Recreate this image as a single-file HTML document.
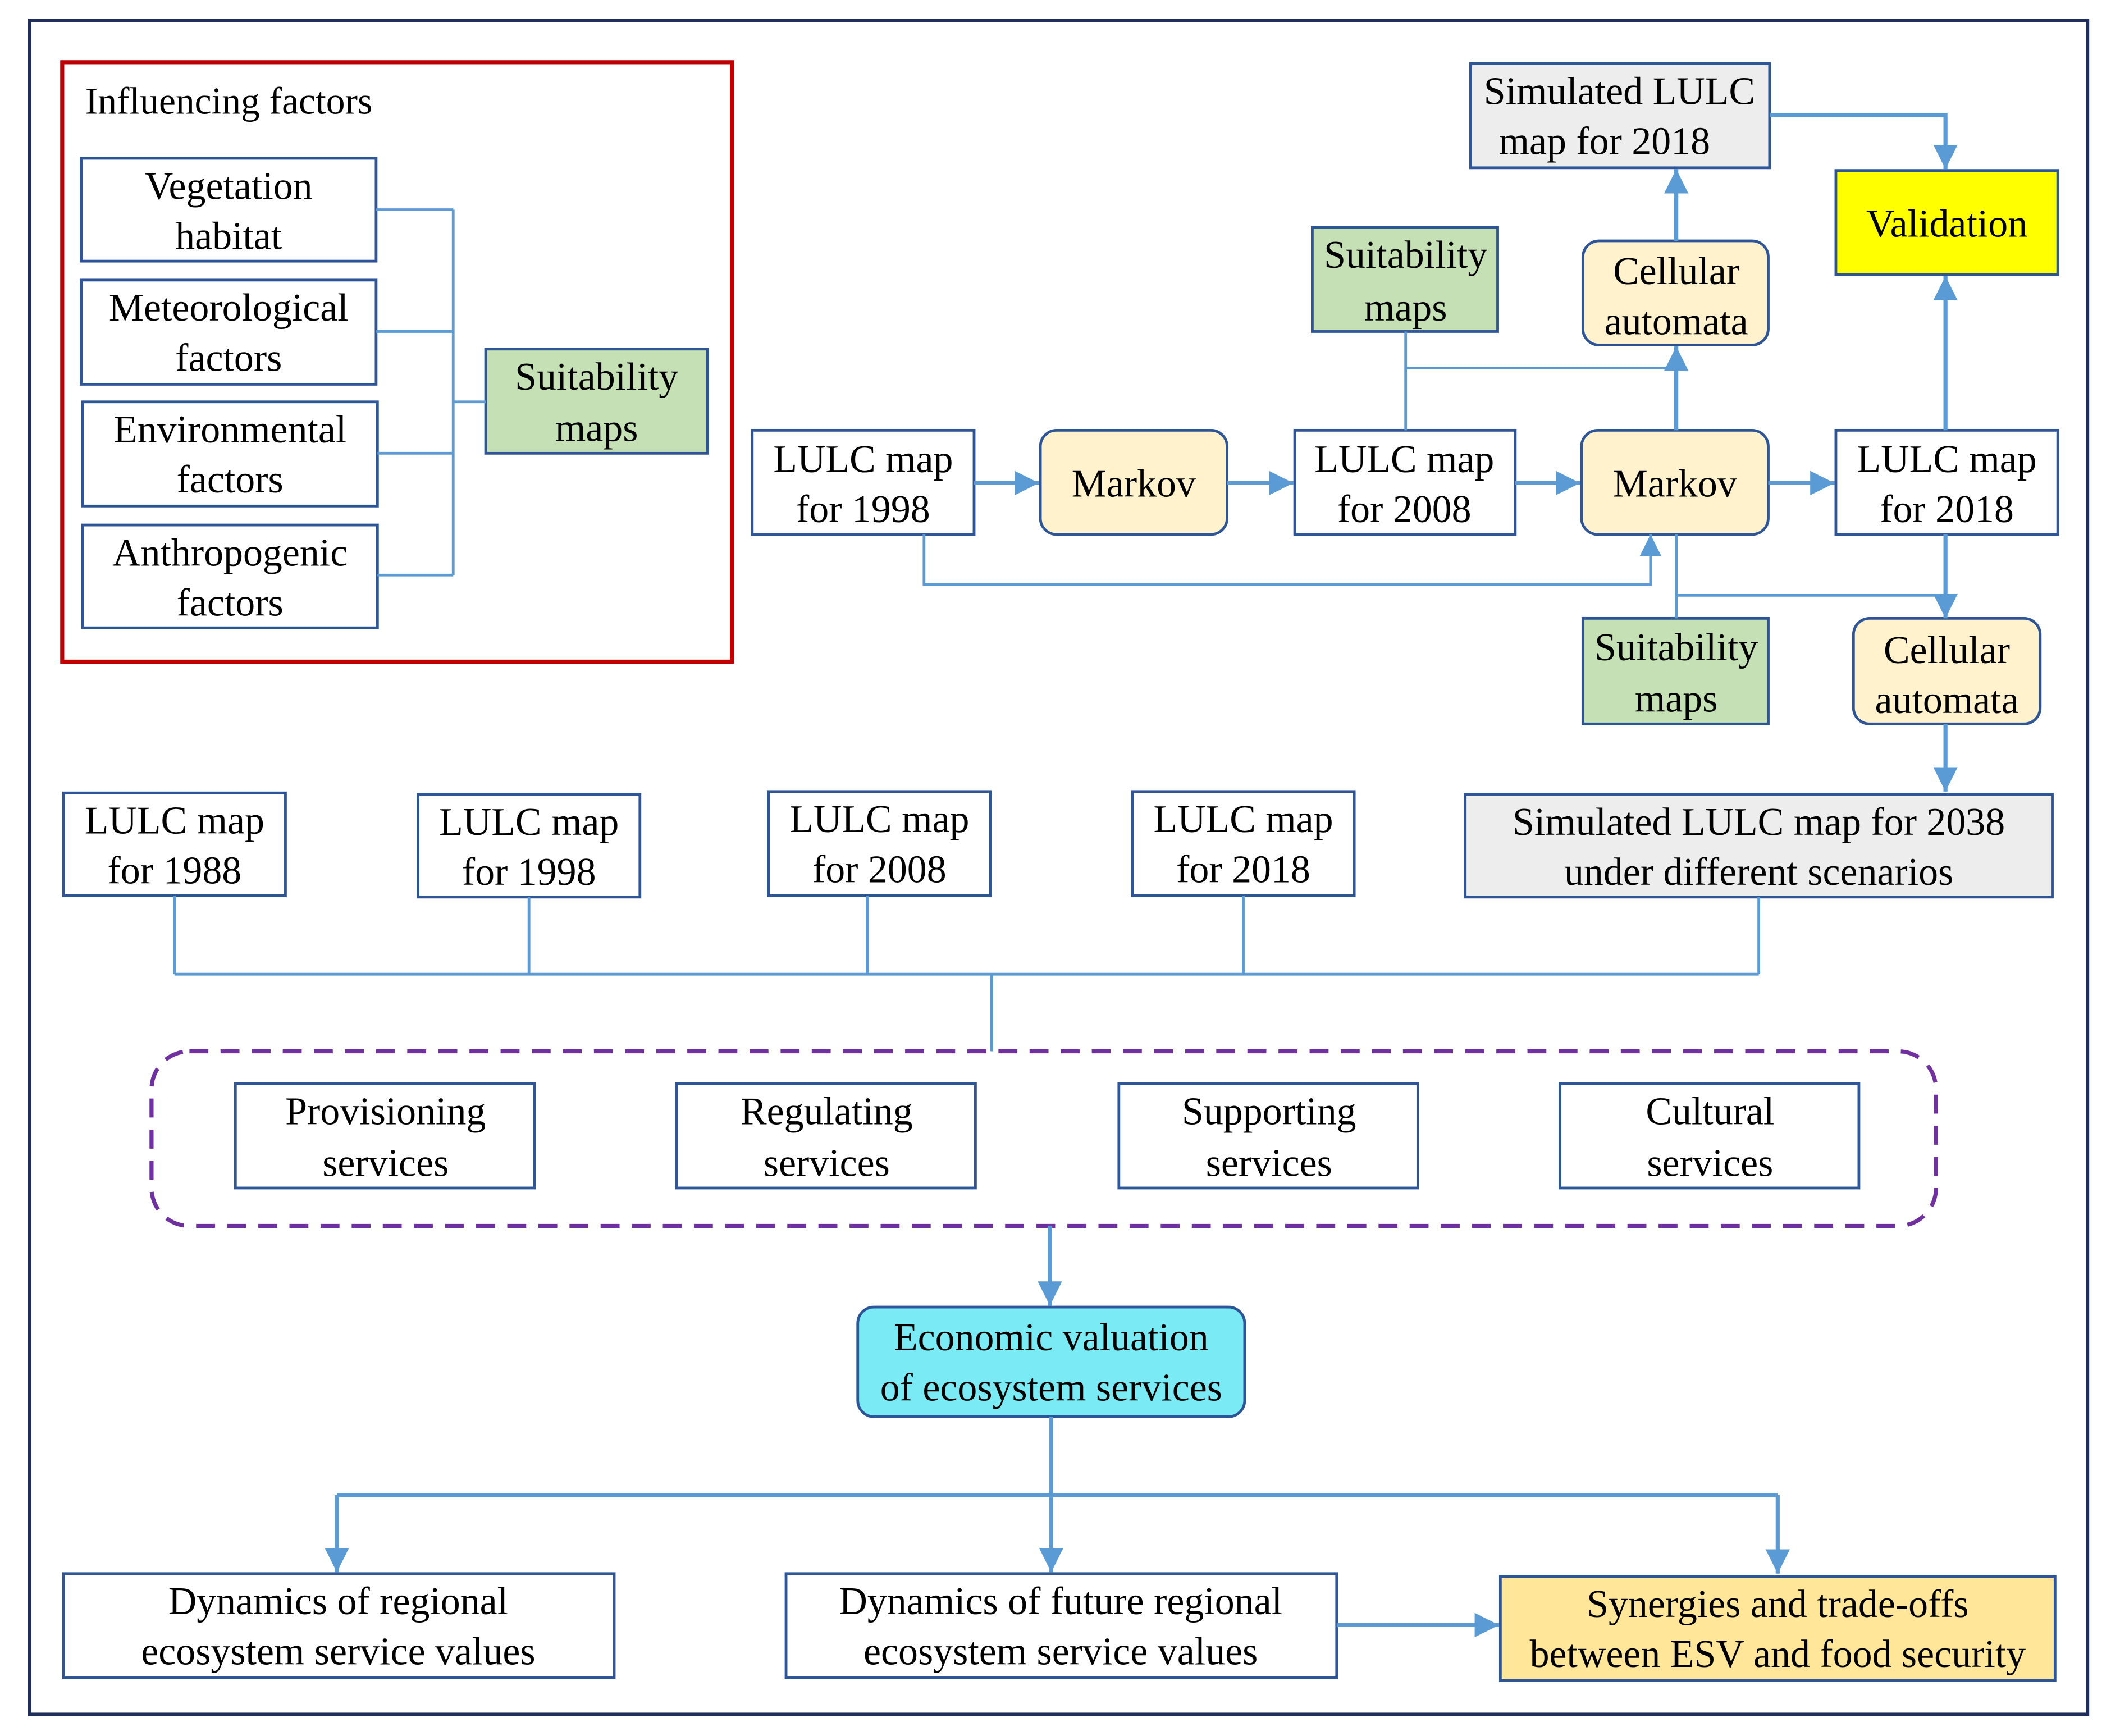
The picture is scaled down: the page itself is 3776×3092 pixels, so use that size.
<!DOCTYPE html>
<html><head><meta charset="utf-8"><style>
html,body{margin:0;padding:0;background:#fff}
svg{display:block}
text{font-family:"Liberation Serif",serif;font-size:29px;fill:#000;text-anchor:middle}
</style></head><body>
<svg width="3776" height="3092" viewBox="0 0 1567 1283" preserveAspectRatio="none" xmlns="http://www.w3.org/2000/svg">
<defs>
<marker id="a" markerWidth="6" markerHeight="6" refX="6" refY="3" orient="auto" markerUnits="strokeWidth"><path d="M0,0 L6,3 L0,6 z" fill="#5b9bd5"/></marker>
<marker id="b" markerWidth="8" markerHeight="8" refX="8" refY="4" orient="auto" markerUnits="strokeWidth"><path d="M0,0 L8,4 L0,8 z" fill="#5b9bd5"/></marker>
</defs>
<rect x="0" y="0" width="1567" height="1283" fill="#fff"/>
<rect x="22" y="15" width="1521" height="1252" fill="none" stroke="#1f2d5c" stroke-width="2.5"/>
<rect x="46" y="46" width="495" height="443" fill="none" stroke="#c00000" stroke-width="3"/>
<text x="63" y="84" style="text-anchor:start;font-size:28px">Influencing factors</text>

<g fill="#fff" stroke="#2e5597" stroke-width="2">
<rect x="60" y="117" width="218" height="76"/>
<rect x="60" y="207" width="218" height="77"/>
<rect x="61" y="297" width="218" height="77"/>
<rect x="61" y="388" width="218" height="76"/>
<rect x="359" y="258" width="164" height="77" fill="#c5e0b4"/>
<rect x="556" y="318" width="164" height="77"/>
<rect x="769" y="318" width="138" height="77" rx="12" fill="#fff2cc"/>
<rect x="957" y="318" width="163" height="77"/>
<rect x="1169" y="318" width="138" height="77" rx="12" fill="#fff2cc"/>
<rect x="1357" y="318" width="164" height="77"/>
<rect x="970" y="168" width="137" height="77" fill="#c5e0b4"/>
<rect x="1170" y="178" width="137" height="77" rx="12" fill="#fff2cc"/>
<rect x="1087" y="47" width="221" height="77" fill="#ededed"/>
<rect x="1357" y="126" width="164" height="77" fill="#ffff00"/>
<rect x="1170" y="457" width="137" height="78" fill="#c5e0b4"/>
<rect x="1370" y="457" width="138" height="78" rx="12" fill="#fff2cc"/>
<rect x="1083" y="587" width="434" height="76" fill="#ededed"/>
<rect x="47" y="586" width="164" height="76"/>
<rect x="309" y="587" width="164" height="76"/>
<rect x="568" y="585" width="164" height="77"/>
<rect x="837" y="585" width="164" height="77"/>
<rect x="174" y="801" width="221" height="77"/>
<rect x="500" y="801" width="221" height="77"/>
<rect x="827" y="801" width="221" height="77"/>
<rect x="1153" y="801" width="221" height="77"/>
<rect x="634" y="966" width="286" height="81" rx="12" fill="#7aeaf4"/>
<rect x="47" y="1163" width="407" height="77"/>
<rect x="581" y="1163" width="407" height="77"/>
<rect x="1109" y="1165" width="410" height="77" fill="#ffe699"/>
</g>
<rect x="112" y="777" width="1319" height="129" rx="28" fill="none" stroke="#7030a0" stroke-width="3" stroke-dasharray="14,9"/>

<g fill="none" stroke="#5b9bd5" stroke-width="2">
<path d="M278,155H335M278,245H335M279,335H335M279,425H335M335,155V425M335,297H359"/>
<path d="M1039,245V318M1039,272H1239"/>
<path d="M1308,85H1438V125" stroke-width="3" marker-end="url(#a)"/>
<path d="M683,395V432H1220V395" marker-end="url(#b)" />
<path d="M1239,395V457M1239,440H1438"/>
<path d="M129,662V720M391,663V720M641,662V720M919,662V720M1300,663V720M129,720H1300M733,720V777"/>
<path d="M777,1047V1105M249,1105H1314" stroke-width="3"/>
</g>
<g fill="none" stroke="#5b9bd5" stroke-width="3" marker-end="url(#a)">
<path d="M720,357H768"/>
<path d="M907,357H956"/>
<path d="M1120,357H1168"/>
<path d="M1307,357H1356"/>
<path d="M1239,318V256"/>
<path d="M1239,178V125"/>
<path d="M1438,318V204"/>
<path d="M1438,395V457"/>
<path d="M1438,535V585"/>
<path d="M776,906V965"/>
<path d="M249,1105V1162"/>
<path d="M777,1105V1162"/>
<path d="M1314,1105V1163"/>
<path d="M988,1201H1108"/>
</g>

<text x="169" y="147">Vegetation</text><text x="169" y="184">habitat</text>
<text x="169" y="237">Meteorological</text><text x="169" y="274">factors</text>
<text x="170" y="327">Environmental</text><text x="170" y="364">factors</text>
<text x="170" y="418">Anthropogenic</text><text x="170" y="455">factors</text>
<text x="441" y="288">Suitability</text><text x="441" y="326">maps</text>
<text x="638" y="349">LULC map</text><text x="638" y="386">for 1998</text>
<text x="838" y="367">Markov</text>
<text x="1038" y="349">LULC map</text><text x="1038" y="386">for 2008</text>
<text x="1238" y="367">Markov</text>
<text x="1439" y="349">LULC map</text><text x="1439" y="386">for 2018</text>
<text x="1039" y="198">Suitability</text><text x="1039" y="237">maps</text>
<text x="1239" y="210">Cellular</text><text x="1239" y="247">automata</text>
<text x="1197" y="77">Simulated LULC</text><text x="1186" y="114">map for 2018</text>
<text x="1439" y="175">Validation</text>
<text x="1239" y="488">Suitability</text><text x="1239" y="526">maps</text>
<text x="1439" y="490">Cellular</text><text x="1439" y="527">automata</text>
<text x="1300" y="617">Simulated LULC map for 2038</text><text x="1300" y="654">under different scenarios</text>
<text x="129" y="616">LULC map</text><text x="129" y="653">for 1988</text>
<text x="391" y="617">LULC map</text><text x="391" y="654">for 1998</text>
<text x="650" y="615">LULC map</text><text x="650" y="652">for 2008</text>
<text x="919" y="615">LULC map</text><text x="919" y="652">for 2018</text>
<text x="285" y="831">Provisioning</text><text x="285" y="869">services</text>
<text x="611" y="831">Regulating</text><text x="611" y="869">services</text>
<text x="938" y="831">Supporting</text><text x="938" y="869">services</text>
<text x="1264" y="831">Cultural</text><text x="1264" y="869">services</text>
<text x="777" y="998">Economic valuation</text><text x="777" y="1035">of ecosystem services</text>
<text x="250" y="1193">Dynamics of regional</text><text x="250" y="1230">ecosystem service values</text>
<text x="784" y="1193">Dynamics of future regional</text><text x="784" y="1230">ecosystem service values</text>
<text x="1314" y="1195">Synergies and trade-offs</text><text x="1314" y="1232">between ESV and food security</text>
</svg>
</body></html>
